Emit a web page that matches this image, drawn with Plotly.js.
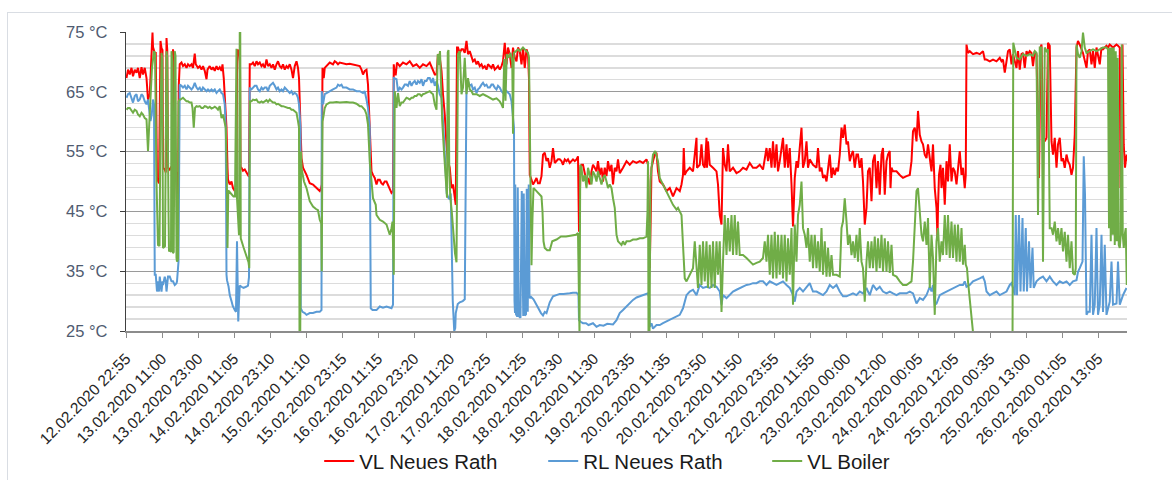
<!DOCTYPE html>
<html><head><meta charset="utf-8">
<script src="https://cdn.plot.ly/plotly-3.0.1.min.js"></script>
<style>
html,body{margin:0;padding:0;background:#fff;}
#chart{width:1172px;height:480px;}
#frame{position:absolute;left:7px;top:12px;width:1200px;height:520px;border:1px solid #d9dde3;pointer-events:none;}
</style>
</head><body>
<div id="chart"></div><div id="frame"></div>
<script>
// Category axis: sample index, 144 samples between labelled categories
const tickLabels = ["12.02.2020 22:55","13.02.2020 11:00","13.02.2020 23:00","14.02.2020 11:05","14.02.2020 23:10","15.02.2020 11:10","15.02.2020 23:15","16.02.2020 11:15","16.02.2020 23:20","17.02.2020 11:20","17.02.2020 23:25","18.02.2020 11:25","18.02.2020 23:30","19.02.2020 11:30","19.02.2020 23:35","20.02.2020 11:35","20.02.2020 23:50","21.02.2020 11:50","21.02.2020 23:55","22.02.2020 11:55","23.02.2020 00:00","23.02.2020 12:00","24.02.2020 00:05","24.02.2020 12:05","25.02.2020 00:35","25.02.2020 13:00","26.02.2020 01:05","26.02.2020 13:05"];
const labelStep = 144;
const yTickVals = [25,35,45,55,65,75];
const yTickText = ["25 °C","35 °C","45 °C","55 °C","65 °C","75 °C"];
const seriesNames = ["VL Neues Rath","RL Neues Rath","VL Boiler"];

const vlData = [[2,67.3],[8,68.7],[15,67.9],[22,69.0],[28,67.6],[35,68.7],[42,68.2],[48,69.0],[55,67.3],[62,69.1],[68,67.9],[75,69.0],[82,67.3],[88,63.7],[95,64.6],[102,70.0],[106,74.9],[108,72.5],[115,71.5],[119,71.5],[124,50.5],[132,49.7],[135,72.0],[138,73.5],[142,72.3],[146,72.0],[148,52.3],[155,52.0],[159,51.5],[162,74.0],[165,72.0],[168,52.3],[175,52.0],[182,52.5],[186,51.5],[188,72.1],[191,71.0],[192,51.5],[199,51.7],[202,51.4],[204,45.3],[208,46.0],[211,66.0],[212,69.6],
[215,69.6],[222,69.9],[228,69.3],[235,69.6],[242,69.0],[248,69.6],[255,69.3],[262,69.6],[268,69.0],[275,71.4],[279,69.6],[288,69.0],[295,69.3],[302,68.7],[308,69.3],[315,68.5],[322,67.1],[326,68.7],[335,69.3],[342,68.7],[348,69.1],[355,68.5],[362,69.3],[368,68.7],[375,69.1],[382,68.5],[386,69.6],[391,67.3],[395,64.6],[399,61.2],[402,59.0],[406,52.3],[408,50.3],[415,49.5],[422,50.0],[428,48.9],[435,48.4],[439,48.9],[442,48.5],[444,68.0],[447,72.1],[450,71.0],[453,72.0],[456,70.0],[458,52.5],[462,52.3],[468,51.8],[475,52.0],[482,51.5],[488,51.2],[492,50.8],[495,69.6],
[502,69.6],[508,69.9],[515,69.3],[522,70.1],[528,69.6],[535,69.9],[542,69.3],[548,69.6],[555,69.0],[562,70.4],[568,69.3],[575,69.6],[582,69.0],[588,69.6],[595,68.7],[602,69.6],[608,70.1],[615,69.3],[622,69.0],[628,69.6],[635,68.7],[642,69.3],[648,69.0],[655,69.6],[662,68.7],[668,67.3],[675,69.3],[682,70.1],[688,69.0],[692,67.3],[695,61.8],[702,53.9],[708,52.3],[715,51.7],[722,51.1],[735,49.7],[748,49.5],[755,49.2],[762,48.9],[768,48.6],[775,48.4],[780,48.9],[783,49.5],[786,69.0],
[791,67.3],[795,69.0],[802,69.3],[808,69.6],[815,69.9],[828,69.6],[835,70.1],[842,69.9],[848,69.6],[855,69.9],[868,69.7],[882,69.6],[895,69.7],[908,69.6],[922,69.5],[935,69.3],[942,68.7],[948,67.9],[955,68.5],[962,68.7],[968,66.2],[975,59.0],[979,53.4],[982,51.7],[988,51.1],[995,50.6],[1002,49.5],[1008,50.3],[1015,50.3],[1022,49.7],[1028,49.5],[1035,50.0],[1042,50.0],[1048,49.5],[1055,48.9],[1062,48.1],[1068,48.4],[1071,69.6],
[1075,67.9],[1079,67.9],[1084,69.9],[1095,69.3],[1108,69.9],[1122,69.6],[1135,70.1],[1148,69.3],[1162,69.6],[1175,69.0],[1188,69.6],[1202,69.3],[1215,69.9],[1228,68.5],[1235,67.9],[1242,67.9],[1248,71.3],[1255,70.7],[1262,68.5],[1268,64.6],[1275,61.2],[1282,56.2],[1288,53.4],[1295,52.3],[1302,48.9],[1308,49.5],[1315,47.8],[1319,46.1],[1324,72.4],
[1328,72.4],[1335,71.5],[1342,72.1],[1348,72.1],[1355,71.5],[1362,73.5],[1368,71.3],[1375,71.8],[1382,70.7],[1388,70.1],[1395,70.4],[1402,69.6],[1408,70.1],[1415,69.3],[1422,69.6],[1428,69.0],[1435,69.3],[1442,68.7],[1448,69.6],[1455,69.3],[1462,69.0],[1468,69.6],[1475,68.7],[1482,69.0],[1488,69.3],[1495,68.7],[1502,69.3],[1508,70.1],[1515,73.2],[1522,69.6],[1528,72.4],[1535,71.3],[1542,69.0],[1548,72.4],[1555,70.7],[1562,70.1],[1568,72.4],[1575,71.8],[1582,69.6],[1588,72.4],[1595,69.0],[1602,72.1],[1608,71.3],[1612,67.1],[1615,51.1],
[1622,50.3],[1628,49.5],[1635,50.0],[1642,50.6],[1648,49.7],[1655,49.7],[1662,50.9],[1668,54.5],[1675,54.8],[1682,53.4],[1688,53.9],[1695,52.3],[1702,53.4],[1708,55.6],[1715,53.1],[1722,53.4],[1728,53.7],[1735,53.7],[1742,53.4],[1748,52.8],[1755,53.7],[1762,53.4],[1768,53.7],[1775,53.1],[1782,53.4],[1788,53.7],[1795,53.4],[1802,53.7],[1808,54.2],[1812,41.6],[1818,52.3],[1822,52.8],[1828,52.8],[1835,51.1],[1842,50.0],[1848,50.6],[1855,49.5],[1862,51.7],[1868,52.8],[1875,52.3],[1882,51.7],[1888,53.4],[1895,51.1],[1902,52.3],[1908,50.0],[1915,52.3],[1922,50.9],[1928,53.4],[1935,51.7],[1942,52.8],[1948,49.5],[1955,52.3],[1962,51.7],[1968,53.7],
[1975,51.4],[1988,52.3],[2002,53.4],[2015,52.8],[2028,53.4],[2042,53.1],[2055,53.4],[2068,53.1],[2082,53.7],[2088,52.8],[2095,35.5],[2099,44.4],[2102,52.3],[2108,53.4],[2115,54.5],[2122,54.8],[2128,51.7],[2135,50.0],[2148,49.5],[2162,48.4],[2175,48.9],[2188,47.5],[2202,48.9],[2215,48.4],[2222,49.5],[2228,51.1],[2231,55.6],[2235,51.1],[2242,51.7],[2255,52.3],[2268,51.7],[2282,57.3],[2284,52.3],[2295,52.8],[2302,56.2],[2308,52.8],[2315,52.3],[2322,57.3],[2324,52.3],[2328,56.7],[2335,52.8],[2348,52.3],[2362,51.7],[2368,49.5],[2375,44.4],[2382,42.8],[2386,48.9],[2388,55.6],[2395,52.8],[2402,51.7],[2408,56.2],[2415,51.7],[2428,52.3],[2442,51.4],[2455,51.7],[2468,52.3],[2482,52.0],[2495,53.1],[2508,52.3],[2522,52.3],[2535,52.8],[2548,52.0],[2562,55.6],[2568,53.4],[2575,55.6],[2582,52.3],[2588,56.7],[2595,52.3],[2602,56.2],[2608,51.7],[2615,53.4],[2628,57.3],[2635,52.3],[2642,56.2],[2648,52.3],[2655,55.6],[2662,49.5],[2668,42.5],[2675,50.6],[2682,53.4],[2688,52.3],[2695,55.6],[2702,59.0],[2708,52.3],[2715,53.4],[2722,56.7],[2728,52.3],[2735,53.7],[2748,52.8],[2762,52.3],[2768,55.6],[2775,51.7],[2782,52.3],[2788,50.6],[2795,51.1],[2802,50.0],[2808,52.3],[2815,54.5],[2822,50.6],[2828,52.3],[2835,51.1],[2842,52.3],[2848,51.7],[2855,54.5],[2862,59.0],[2868,57.3],[2875,59.5],[2882,56.2],[2888,56.7],[2895,53.4],[2902,54.5],[2908,55.1],[2915,52.3],[2922,54.5],[2928,54.5],[2935,52.3],[2942,53.9],[2948,50.0],[2955,42.8],[2962,45.6],[2968,51.7],
[2975,52.3],[2982,46.7],[2988,53.4],[2995,54.5],[3002,48.9],[3008,53.4],[3015,47.8],[3022,54.5],[3028,55.6],[3035,47.8],[3042,53.4],[3048,54.5],[3055,55.1],[3058,48.9],[3062,52.3],[3068,51.7],[3082,51.7],[3095,51.1],[3108,50.6],[3122,50.9],[3135,51.1],[3142,53.4],[3148,58.4],[3155,59.0],[3162,56.7],[3168,61.8],[3175,57.8],[3182,56.7],[3188,56.2],[3195,54.5],[3202,53.9],[3208,56.2],[3215,53.4],[3222,51.7],[3228,56.2],[3231,52.3],[3235,48.9],[3242,45.6],[3246,40.5],[3248,45.6],[3252,51.1],[3258,52.8],[3262,48.9],[3268,52.3],[3275,46.1],[3282,53.4],[3288,50.0],[3295,56.2],[3302,50.0],[3308,52.3],[3315,51.7],[3322,49.5],[3328,51.7],[3335,55.1],[3342,51.1],[3348,52.3],[3355,48.9],[3359,51.1],[3362,72.9],[3368,71.5],[3375,71.8],[3388,71.3],[3402,71.5],[3415,71.3],[3428,71.8],[3435,70.4],[3442,70.4],[3455,70.1],[3468,70.4],[3482,70.1],[3495,70.7],[3502,70.1],[3508,70.4],[3515,68.2],[3522,70.1],[3528,71.8],[3535,72.1],[3542,69.6],[3548,71.3],[3562,69.0],[3568,71.8],[3575,68.7],[3582,71.3],[3588,71.5],[3595,69.0],[3602,71.8],[3608,71.3],[3615,71.8],[3622,71.5],[3628,69.3],[3635,71.8],[3642,71.3],[3648,59.0],[3652,50.6],[3658,72.4],[3662,72.9],[3668,57.8],[3675,56.7],[3682,57.3],[3688,73.2],[3695,72.7],[3702,56.7],[3708,54.5],[3715,57.3],[3722,52.3],[3728,56.2],[3735,57.3],[3742,53.4],[3748,53.9],[3755,52.3],[3762,54.5],[3768,53.4],[3775,52.8],[3782,51.1],[3788,52.3],[3795,57.8],[3802,72.4],[3808,73.5],[3815,72.9],[3828,71.5],[3842,69.0],[3848,71.8],[3855,72.1],[3862,69.6],[3868,71.8],[3875,69.0],[3882,72.4],[3895,69.6],[3902,72.4],[3908,72.1],[3915,72.4],[3922,72.7],[3928,72.4],[3935,72.9],[3948,72.4],[3962,72.9],[3968,72.7],[3975,72.4],[3978,48.9],[3982,54.5],[3986,72.9],[3991,56.2],[3996,52.3],[4002,54.5],[4008,53.4]];

const rlData = [[2,64.0],[8,64.6],[15,64.8],[22,63.7],[28,63.2],[35,64.3],[42,64.6],[48,63.4],[55,63.7],[62,64.6],[68,64.3],[75,63.4],[82,62.9],[88,63.7],[92,62.3],[98,60.1],[103,61.2],[108,63.7],[112,62.9],[115,34.4],[119,34.4],[124,31.6],[128,33.3],[132,31.6],[135,34.1],[142,31.6],[146,33.3],[148,32.7],[155,34.1],[159,33.3],[162,31.6],[168,34.1],[175,34.1],[182,33.3],[188,33.3],[195,32.7],[202,33.0],[204,33.3],[210,36.6],[212,66.0],
[215,66.2],[222,66.0],[228,65.7],[235,66.0],[242,65.4],[248,66.0],[255,65.7],[262,65.4],[268,65.7],[275,66.5],[282,65.7],[288,65.4],[295,65.7],[302,65.1],[308,65.7],[315,65.4],[322,65.1],[328,65.4],[335,65.1],[342,65.4],[348,65.1],[355,65.4],[362,64.8],[368,65.1],[375,65.4],[382,64.8],[388,64.6],[395,62.9],[399,59.0],[402,34.4],[404,33.5],[410,32.5],[415,31.0],[422,30.0],[427,29.2],[435,28.5],[440,28.2],[444,40.0],[446,27.5],[449,26.6],[452,30.0],[455,32.6],[462,32.4],[470,32.2],[480,32.4],[488,32.6],[492,34.0],[495,65.7],
[502,65.4],[508,65.7],[515,66.0],[522,66.0],[528,65.4],[535,65.1],[542,65.7],[548,65.4],[555,65.7],[562,65.7],[568,65.1],[575,66.0],[582,66.2],[588,66.5],[595,66.0],[602,65.4],[608,65.7],[615,65.1],[622,65.4],[628,65.1],[635,65.7],[642,65.4],[648,65.1],[655,64.8],[662,65.1],[668,64.6],[675,64.8],[682,64.6],[688,64.0],[692,62.9],[698,59.0],[699,28.8],[706,28.2],[715,28.0],[722,27.7],[735,28.0],[748,28.0],[762,28.2],[775,28.2],[782,28.5],[783,65.1],
[788,62.9],[795,64.6],[802,64.8],[815,65.1],[828,65.4],[842,65.7],[848,66.2],[855,66.0],[862,66.2],[868,65.7],[882,65.7],[895,65.4],[908,65.4],[922,65.1],[935,65.1],[948,64.8],[955,65.1],[962,63.7],[968,62.3],[975,59.0],[979,28.8],[986,28.5],[995,28.5],[1002,28.5],[1015,29.1],[1028,28.9],[1042,29.1],[1055,28.9],[1062,28.8],[1068,29.4],[1071,67.3],
[1082,67.1],[1088,65.1],[1095,65.7],[1102,65.4],[1108,65.7],[1115,66.2],[1122,66.2],[1128,66.0],[1135,66.8],[1142,66.0],[1148,66.5],[1155,66.8],[1162,66.2],[1168,66.8],[1175,66.5],[1182,67.1],[1188,66.0],[1195,66.8],[1202,66.8],[1208,67.3],[1215,67.3],[1222,66.5],[1228,67.3],[1235,66.0],[1242,66.8],[1248,66.0],[1255,64.6],[1262,64.0],[1271,58.0],[1279,50.0],[1283,48.0],[1289,47.3],[1295,47.0],[1299,48.0],[1307,30.0],[1313,25.0],[1317,25.5],[1319,28.0],[1327,29.5],[1335,29.8],[1347,30.0],[1355,30.3],[1359,65.0],
[1362,65.7],[1368,66.8],[1375,66.0],[1382,66.2],[1388,65.4],[1395,65.7],[1402,64.8],[1408,65.4],[1415,65.7],[1422,66.2],[1428,66.5],[1435,66.0],[1442,66.2],[1448,65.7],[1455,65.7],[1462,66.2],[1468,66.2],[1475,65.7],[1482,65.4],[1488,66.0],[1495,65.7],[1502,65.1],[1508,64.8],[1515,65.4],[1522,65.1],[1528,64.8],[1535,64.6],[1542,63.4],[1548,60.1],[1552,59.0],
[1554,30.0],[1556,28.0],[1557,49.5],[1560,27.8],[1565,27.4],[1567,49.0],[1571,27.5],[1578,27.2],[1583,48.4],[1586,28.0],[1589,27.5],[1591,48.0],[1595,27.6],[1600,27.8],[1603,48.8],[1607,28.2],[1611,49.5],[1614,30.5],[1620,30.7],[1630,30.3],[1640,29.5],[1650,28.8],[1660,28.0],[1668,27.6],[1675,28.2],[1682,28.0],[1695,29.8],[1708,30.8],[1720,31.0],[1735,31.2],[1750,31.2],[1762,31.2],[1775,31.3],[1788,31.4],[1802,31.4],[1810,31.0],[1812,26.8],[1820,26.5],[1828,26.3],[1840,26.3],[1850,26.0],[1868,26.3],[1882,25.7],[1895,26.0],[1910,25.9],[1925,26.2],[1948,26.1],[1962,26.8],[1975,28.0],[1988,28.5],[2002,29.1],[2015,29.6],[2028,30.2],[2042,30.6],[2055,30.8],[2068,31.0],[2082,31.2],[2088,31.3],[2093,30.5],[2095,25.7],
[2102,26.3],[2108,25.4],[2122,26.0],[2135,26.0],[2148,26.3],[2162,26.6],[2175,26.8],[2188,27.1],[2202,27.4],[2215,27.7],[2228,28.8],[2235,30.2],[2242,31.0],[2255,31.6],[2268,31.9],[2282,31.0],[2295,32.7],[2308,32.2],[2322,32.4],[2335,32.2],[2348,32.7],[2362,32.4],[2375,31.6],[2382,29.4],[2388,31.0],[2402,30.5],[2415,31.0],[2428,31.6],[2442,31.9],[2455,32.2],[2468,32.4],[2482,32.7],[2495,32.8],[2508,33.0],[2522,33.0],[2535,33.3],[2548,33.3],[2562,32.7],[2575,33.3],[2588,33.0],[2602,32.7],[2615,33.0],[2628,33.3],[2642,32.7],[2655,32.2],[2668,31.0],[2675,29.9],[2682,31.6],[2695,32.2],[2708,31.6],[2722,32.4],[2735,33.0],[2742,32.2],[2748,31.6],[2762,31.6],[2775,31.3],[2788,31.0],[2802,31.6],[2815,32.7],[2828,32.2],[2842,32.7],[2855,31.6],[2868,30.8],[2882,30.8],[2895,31.0],[2908,31.3],[2922,31.0],[2935,31.6],[2948,31.3],[2962,32.2],[2968,31.6],
[2975,31.0],[2988,32.7],[3002,31.9],[3015,32.4],[3028,31.6],[3042,31.3],[3055,31.6],[3068,31.3],[3082,31.0],[3095,31.3],[3108,31.3],[3122,31.3],[3135,31.6],[3148,31.3],[3162,29.6],[3175,30.5],[3188,30.2],[3202,31.0],[3215,32.4],[3222,31.6],[3228,32.7],[3235,29.4],[3242,29.6],[3255,31.0],[3268,31.3],[3282,31.6],[3295,31.9],[3308,32.2],[3322,32.4],[3335,32.7],[3348,32.7],[3355,33.3],[3362,32.4],[3375,32.7],[3388,33.3],[3402,33.5],[3415,33.8],[3428,34.1],[3435,33.3],[3442,31.6],[3455,31.0],[3468,31.3],[3482,31.6],[3495,31.0],[3508,31.3],[3522,31.6],[3535,32.7],[3542,33.0],[3548,32.2],[3555,31.0],[3559,44.4],[3564,31.0],[3572,44.4],[3578,31.6],[3586,43.9],[3591,31.6],[3599,42.2],[3604,31.6],[3612,40.0],[3618,32.2],[3626,38.9],[3631,32.2],[3642,33.3],[3655,33.8],[3668,34.1],[3682,33.3],[3695,34.1],[3708,33.3],[3722,32.7],[3735,33.3],[3748,33.0],[3762,33.3],[3775,32.7],[3788,33.3],[3802,33.5],[3808,34.9],[3815,35.5],[3826,36.6],[3831,54.2],[3836,47.8],[3842,27.7],[3848,28.2],[3855,28.2],[3862,41.1],[3868,27.7],[3875,29.4],[3882,42.2],[3888,27.7],[3895,29.4],[3902,41.1],[3908,28.2],[3915,39.4],[3922,27.7],[3935,29.9],[3942,36.6],[3948,29.4],[3962,29.6],[3968,36.6],[3975,29.4],[3982,30.5],[3988,31.0],[3995,31.6],[4002,32.2]];

const boilerData = [[2,62.0],[8,62.3],[15,62.3],[22,61.8],[28,61.5],[35,62.0],[42,61.8],[48,61.2],[55,60.9],[62,61.5],[68,61.2],[75,60.6],[82,60.4],[88,55.1],[92,60.1],[98,64.0],[104,69.0],[112,71.8],[116,71.5],[122,50.0],[128,39.4],[134,39.2],[138,60.0],[142,71.5],[145,70.5],[148,38.9],[152,39.0],[156,39.2],[162,71.8],[165,70.8],[170,45.0],[172,38.3],[176,38.5],[180,38.2],[182,71.8],[185,70.0],[188,38.0],[191,38.2],[195,71.8],[198,71.0],[202,37.2],[204,36.6],[208,37.0],[210,63.4],
[215,63.7],[218,63.7],[228,64.0],[235,63.6],[242,63.4],[248,63.4],[255,63.2],[262,63.2],[266,62.3],[271,59.0],[276,62.3],[282,62.6],[288,62.5],[295,62.6],[302,62.3],[308,62.3],[315,62.6],[322,62.5],[328,62.3],[335,62.5],[342,62.2],[348,62.3],[355,62.5],[362,62.3],[368,62.0],[375,62.6],[382,60.6],[388,61.2],[395,59.5],[399,59.0],[403,52.0],[406,38.9],[409,48.5],[415,48.2],[422,47.8],[430,47.5],[436,47.5],[440,71.5],[442,72.2],[444,47.2],[448,44.0],[452,41.0],[455,74.9],[457,75.0],[459,40.5],[463,39.8],[470,39.0],[478,38.0],[485,37.0],[490,36.5],[493,35.5],[496,63.4],
[502,63.4],[508,63.7],[515,63.6],[522,63.7],[528,63.3],[535,63.2],[542,63.4],[548,63.2],[555,63.4],[562,63.6],[568,63.3],[575,63.7],[582,63.4],[588,63.2],[595,63.2],[602,62.9],[608,63.0],[615,62.8],[622,62.6],[628,62.6],[635,62.5],[642,62.3],[648,62.3],[655,62.3],[662,62.0],[668,62.0],[675,61.8],[682,61.5],[688,60.1],[692,59.0],[694,24.5],[697,24.5],[700,55.0],[703,52.0],[712,50.0],[722,48.9],[735,46.7],[748,45.8],[760,45.4],[768,45.2],[775,43.6],[781,43.0],[783,35.0],[786,60.0],
[791,61.2],[795,62.3],[802,62.9],[808,63.0],[815,63.2],[828,63.2],[842,63.3],[855,63.2],[868,63.3],[882,63.3],[895,63.2],[908,63.2],[922,63.0],[935,62.6],[942,62.6],[948,62.3],[955,62.0],[962,61.2],[968,59.5],[975,53.4],[982,49.5],[988,47.2],[999,46.1],[1002,44.4],[1015,43.6],[1028,43.3],[1042,42.8],[1055,41.1],[1062,42.2],[1066,43.3],[1071,34.4],[1075,65.1],
[1082,62.3],[1088,64.8],[1095,62.6],[1102,63.2],[1108,63.2],[1115,63.7],[1122,64.0],[1128,63.9],[1135,63.7],[1142,64.0],[1148,64.0],[1155,64.3],[1162,64.3],[1168,64.6],[1175,64.6],[1182,64.3],[1188,64.6],[1195,64.7],[1202,64.8],[1208,65.0],[1215,65.1],[1222,64.8],[1228,64.6],[1235,62.9],[1242,62.0],[1247,71.3],[1251,69.5],[1256,71.8],[1260,66.0],[1265,60.0],[1272,55.0],[1279,50.0],[1284,47.3],[1287,71.6],[1290,72.0],[1293,52.0],[1297,47.5],[1303,45.0],[1310,41.0],[1316,38.0],[1322,36.5],[1325,71.3],
[1328,71.3],[1335,71.8],[1342,64.6],[1348,65.7],[1355,70.7],[1362,64.6],[1368,67.3],[1375,65.4],[1382,65.1],[1388,64.6],[1402,64.6],[1415,64.3],[1428,64.6],[1442,64.3],[1455,64.0],[1468,63.7],[1482,63.9],[1495,63.4],[1502,62.9],[1508,62.3],[1513,70.5],[1518,63.5],[1523,71.3],[1530,70.7],[1538,71.5],[1545,70.0],[1548,58.0],[1551,71.5],[1560,71.8],[1568,72.1],[1575,71.8],[1582,72.1],[1588,72.4],[1595,72.1],[1602,71.8],[1608,71.5],[1612,70.7],[1615,60.0],[1618,45.0],[1622,36.0],[1626,44.0],[1630,48.9],[1642,48.4],[1655,47.8],[1662,47.5],[1666,45.0],[1670,40.0],[1675,38.9],[1685,38.5],[1695,38.5],[1705,40.0],[1722,40.3],[1740,40.8],[1760,40.8],[1780,41.0],[1800,41.1],[1808,41.4],[1811,24.5],[1814,24.5],[1817,52.8],
[1822,52.3],[1828,50.0],[1835,51.1],[1842,48.9],[1848,52.3],[1855,51.1],[1862,49.5],[1868,51.7],[1875,51.1],[1882,50.0],[1888,51.7],[1895,50.6],[1902,49.5],[1908,50.6],[1915,51.1],[1922,50.0],[1928,48.9],[1935,49.5],[1942,48.9],[1948,47.2],[1955,45.6],[1962,41.1],[1968,40.0],[1975,39.7],[1982,39.4],[1988,40.0],[1995,39.4],
[2002,40.0],[2015,40.0],[2028,40.3],[2042,40.3],[2055,40.5],[2068,40.5],[2082,40.8],[2086,45.0],[2088,53.4],[2090,24.5],[2094,24.5],[2098,50.0],[2102,52.3],[2108,54.5],[2117,55.1],[2128,53.4],[2135,50.6],[2142,50.0],[2148,49.5],[2162,48.4],[2175,47.2],[2188,46.1],[2202,45.3],[2208,45.6],[2215,45.0],[2222,44.4],[2228,39.4],[2235,33.8],[2242,33.3],[2255,34.4],[2268,35.5],[2275,40.0],[2282,34.9],[2288,32.2],[2295,39.4],[2302,32.7],[2308,40.0],[2315,33.3],[2322,40.0],[2328,32.2],[2335,39.4],[2342,32.2],[2348,40.0],[2355,32.2],[2362,40.0],[2368,34.4],[2375,40.0],[2382,28.2],[2388,36.6],[2395,44.4],[2402,37.7],[2408,43.9],[2415,38.3],[2422,44.4],[2428,37.7],[2435,44.4],[2442,37.7],[2448,43.3],[2455,37.7],[2468,37.7],[2482,37.2],[2495,36.6],[2508,36.1],[2522,36.4],[2535,36.6],[2548,37.2],[2555,40.0],[2562,36.6],[2568,41.1],[2575,34.4],[2582,41.1],[2588,33.8],[2595,41.6],[2602,33.8],[2608,41.1],[2615,34.4],[2622,41.1],[2628,33.8],[2635,41.1],[2642,33.3],[2648,40.5],[2655,34.4],[2662,42.2],[2668,29.4],[2675,42.8],[2682,36.6],[2688,44.4],[2695,46.1],[2702,50.0],[2708,42.2],[2715,41.1],[2722,38.9],[2728,42.2],[2735,36.6],[2742,41.1],[2748,35.5],[2755,41.1],[2762,35.5],[2768,40.0],[2775,34.9],[2782,42.2],[2788,34.4],[2795,40.0],[2802,34.1],[2808,38.9],[2815,34.1],[2822,37.7],[2828,34.4],[2842,34.4],[2855,34.1],[2862,42.2],[2868,43.3],[2875,47.2],[2882,43.3],[2888,39.4],[2895,41.1],[2902,37.7],[2908,40.0],[2915,37.2],[2922,41.1],[2928,36.6],[2935,42.2],[2942,36.6],[2948,35.5],[2955,29.9],[2962,36.6],[2968,40.0],
[2975,35.5],[2982,40.0],[2988,35.5],[2995,40.8],[3002,34.9],[3008,40.5],[3015,35.5],[3022,41.1],[3028,34.9],[3035,40.5],[3042,34.9],[3048,40.0],[3055,34.7],[3062,39.4],[3068,34.4],[3082,34.1],[3095,33.3],[3108,32.7],[3122,32.7],[3135,33.0],[3142,33.3],[3148,36.6],[3155,42.2],[3162,48.4],[3168,48.9],[3175,44.4],[3182,41.1],[3188,40.0],[3195,43.3],[3202,39.4],[3208,43.9],[3215,32.2],[3222,41.1],[3228,37.2],[3235,27.7],[3242,40.0],[3248,42.2],[3255,36.6],[3262,40.0],[3268,37.7],[3275,44.4],[3282,37.7],[3288,44.4],[3295,37.2],[3302,43.3],[3308,37.2],[3315,42.8],[3322,36.6],[3328,42.8],[3335,36.6],[3342,42.2],[3348,36.1],[3355,39.4],[3359,36.1],[3364,35.5],[3368,33.3],[3375,29.9],[3382,27.1],[3388,24.8],[3395,23.5],[3546,22.0],[3549,73.2],[3562,70.7],[3575,70.4],[3588,71.3],[3602,71.0],[3615,71.3],[3628,71.0],[3635,71.8],[3642,71.5],[3648,44.4],[3655,72.4],[3662,72.4],[3668,36.6],[3675,72.4],[3682,71.8],[3688,72.1],[3695,42.2],[3702,42.2],[3708,41.1],[3715,43.3],[3722,40.0],[3728,42.2],[3735,39.4],[3742,42.2],[3748,38.3],[3755,41.6],[3762,36.6],[3768,41.1],[3775,35.5],[3782,40.0],[3788,34.7],[3795,34.4],[3799,35.5],[3802,72.9],[3808,71.3],[3815,70.7],[3822,71.8],[3828,74.9],[3835,72.4],[3842,71.5],[3855,71.8],[3868,72.1],[3882,71.8],[3895,72.1],[3908,72.4],[3922,72.4],[3928,72.1],[3932,42.2],[3935,72.4],[3939,40.0],[3943,72.4],[3947,41.1],[3951,72.4],[3955,39.4],[3959,71.8],[3963,40.0],[3967,70.7],[3971,39.4],[3975,38.9],[3979,41.0],[3983,72.9],[3987,41.1],[3991,38.9],[3995,41.1],[3999,42.2],[4003,32.7]];

const colors = ["#ff0000","#5b9bd5","#70ad47"];
const allData = [vlData, rlData, boilerData];

const traces = allData.map((d, i) => ({
  type: 'scatter', mode: 'lines', name: seriesNames[i],
  x: d.map(p => p[0]), y: d.map(p => p[1]),
  line: {color: colors[i], width: 2}, hoverinfo: 'skip'
}));

const tickVals = tickLabels.map((_, i) => i * labelStep);
const minorVals = [];
for (let v = 27; v < 75; v += 2) if ((v - 25) % 10 !== 0) minorVals.push(v);

const layout = {
  width: 1172, height: 480,
  margin: {l: 126, r: 45, t: 32, b: 149, autoexpand: false},
  paper_bgcolor: '#ffffff', plot_bgcolor: '#ffffff',
  font: {family: 'Liberation Sans, Arial, sans-serif', color: '#262626'},
  showlegend: true,
  xaxis: {
    range: [0, 4004], tickmode: 'array', tickvals: tickVals, ticktext: tickLabels,
    tickangle: -45, ticks: 'outside', ticklen: 5, tickcolor: '#8c8c8c', tickwidth: 1,
    showline: true, linecolor: '#8c8c8c', linewidth: 1.5, showgrid: false, zeroline: false,
    tickfont: {size: 15.5, color: '#262626'}, ticklabelstandoff: 6, automargin: false
  },
  yaxis: {
    range: [25, 75], tickmode: 'array', tickvals: yTickVals, ticktext: yTickText,
    ticks: 'outside', ticklen: 5, tickcolor: '#404040',
    showline: true, linecolor: '#404040', linewidth: 1.2, zeroline: false,
    showgrid: true, gridcolor: '#9a9a9a', gridwidth: 1,
    tickfont: {size: 16.5, color: '#4f5b70'}, ticklabelstandoff: 9, automargin: false,
    minor: {tickmode: 'array', tickvals: minorVals, showgrid: true, gridcolor: '#dcdcdc', gridwidth: 1.3, ticks: ''}
  },
  legend: {
    orientation: 'h', x: 0.193, xanchor: 'left', y: -0.435, yanchor: 'middle',
    font: {size: 20.5, color: '#1a1a1a'}, entrywidth: 179, bgcolor: 'rgba(0,0,0,0)'
  }
};

Plotly.newPlot('chart', traces, layout, {displayModeBar: false, staticPlot: true});
</script>
</body></html>
